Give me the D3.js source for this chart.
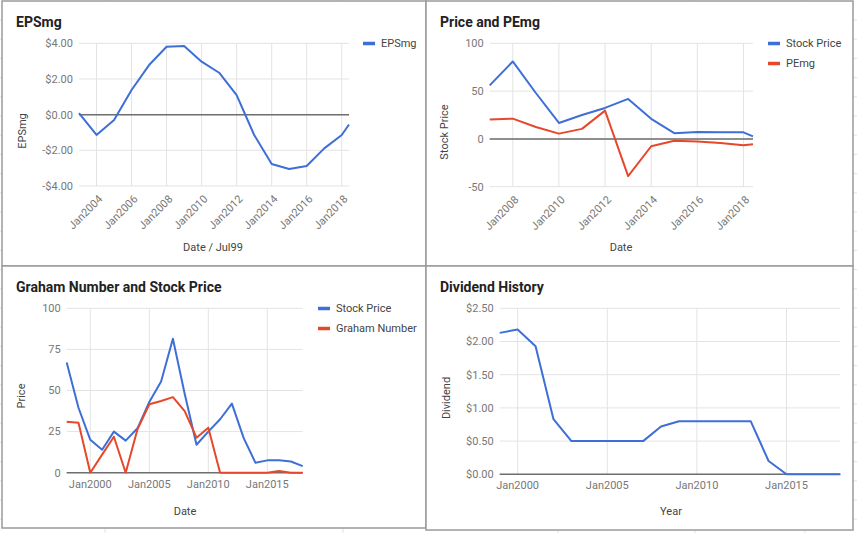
<!DOCTYPE html>
<html>
<head>
<meta charset="utf-8">
<title>Stock charts</title>
<script src="https://d3js.org/d3.v7.min.js"></script>
<style>
  body { margin:0; background:#fff; }
  text { font-family: Roboto, 'Open Sans', sans-serif; }
  .title { font-size:14px; font-weight:700; fill:#222; }
  .tick-label { font-size:11px; fill:#777; }
  .axis-title { font-size:11px; fill:#444; }
  .legend-text { font-size:11px; fill:#444; }
  .grid-line { stroke:#e3e3e3; stroke-width:1; }
  .zero-line { stroke:#6e6e6e; stroke-width:1.5; }
  .series { fill:none; stroke-width:2; stroke-linejoin:round; }
</style>
</head>
<body>
<script>
// ---- data ----
var epsDates = ["2003-01-01","2004-01-01","2005-01-01","2006-01-01","2007-01-01","2008-01-01","2009-01-01","2010-01-01","2011-01-01","2012-01-01","2013-01-01","2014-01-01","2015-01-01","2016-01-01","2017-01-01","2018-01-01","2018-06-01"];
var epsValues = [0.08,-1.14,-0.3,1.38,2.78,3.81,3.85,2.97,2.35,1.1,-1.14,-2.77,-3.05,-2.88,-1.89,-1.14,-0.55];
var epsTicks = [-4,-2,0,2,4];
var epsXTicks = ["2004-01-01","2006-01-01","2008-01-01","2010-01-01","2012-01-01","2014-01-01","2016-01-01","2018-01-01"];

var peDates = ["2007-01-01","2008-01-01","2009-01-01","2010-01-01","2011-01-01","2012-01-01","2013-01-01","2014-01-01","2015-01-01","2016-01-01","2017-01-01","2018-01-01","2018-06-01"];
var pePrice = [56,81,48,16.7,25,32.4,41.8,21,6,7.3,7,6.9,2.7];
var pePEmg = [20.2,21.2,12.5,5.5,10.5,29.6,-39,-7.7,-2,-2.8,-4.2,-6.7,-5.6];
var peTicks = [-50,0,50,100];
var peXTicks = ["2008-01-01","2010-01-01","2012-01-01","2014-01-01","2016-01-01","2018-01-01"];

var grahamYears = [1998,1999,2000,2001,2002,2003,2004,2005,2006,2007,2008,2009,2010,2011,2012,2013,2014,2015,2016,2017,2018];
var grahamPrice = [67,39.5,20,14,25,19.5,27,43,55.5,81.5,48,17,25,32.5,42,21,6,7.5,7.5,6.8,4];
var grahamNumber = [31,30.4,0,11,21.9,0,26.4,41.6,43.6,46,37.5,21.3,27.4,0,0,0,0,0,1,0,0];
var grahamTicks = [0,25,50,75,100];
var grahamXTicks = [2000,2005,2010,2015];

var divYears = [1999,2000,2001,2002,2003,2004,2005,2006,2007,2008,2009,2010,2011,2012,2013,2014,2015,2016,2017,2018];
var divValues = [2.13,2.18,1.93,0.83,0.5,0.5,0.5,0.5,0.5,0.72,0.8,0.8,0.8,0.8,0.8,0.2,0,0,0,0];
var divTicks = [0,0.5,1,1.5,2,2.5];
var divXTicks = [2000,2005,2010,2015];

var blue = "#3d6fd6", red = "#e5482b";

var W = 857, H = 533;
var svg = d3.select("body").append("svg").attr("width", W).attr("height", H);

// spreadsheet cells behind the charts
var bg = svg.append("g");
[105,343,558,695,805].forEach(function(x){
  bg.append("line").attr("x1",x).attr("x2",x).attr("y1",0).attr("y2",H).attr("stroke","#e2e2e2");
});
d3.range(20, H, 19.2).forEach(function(y){
  bg.append("line").attr("x1",0).attr("x2",W).attr("y1",y).attr("y2",y).attr("stroke","#e2e2e2");
});

var parse = d3.timeParse("%Y-%m-%d");
var fmtMonth = d3.timeFormat("%b%Y");
var yearDate = function(y){ return new Date(y,0,1); };

function panel(c) {
  var g = svg.append("g");
  g.append("rect").attr("x",c.box[0]).attr("y",c.box[1]).attr("width",c.box[2]).attr("height",c.box[3])
    .attr("fill","#fff").attr("stroke","#9a9a9a").attr("stroke-width",1.5);
  g.append("text").attr("class","title").attr("x",c.box[0]+14).attr("y",c.box[1]+26).text(c.title);

  var x = d3.scaleTime().domain(c.xDomain).range([c.plot.left, c.plot.right]);
  var y = d3.scaleLinear().domain(c.yDomain).range([c.plot.bottom, c.plot.top]);

  // grid
  g.append("g").selectAll("line").data(c.yTicks).enter().append("line")
    .attr("class","grid-line").attr("x1",c.plot.left).attr("x2",c.plot.right)
    .attr("y1",function(d){return y(d);}).attr("y2",function(d){return y(d);});
  g.append("g").selectAll("line").data(c.xTicks).enter().append("line")
    .attr("class","grid-line").attr("y1",c.plot.top).attr("y2",c.plot.bottom)
    .attr("x1",function(d){return x(d);}).attr("x2",function(d){return x(d);});

  // y labels
  g.append("g").selectAll("text").data(c.yTicks).enter().append("text")
    .attr("class","tick-label").attr("text-anchor","end")
    .attr("x",c.plot.left-6).attr("y",function(d){return y(d);}).attr("dy","0.35em")
    .text(c.yFormat);

  // x labels
  var xl = g.append("g").selectAll("text").data(c.xTicks).enter().append("text")
    .attr("class","tick-label").text(fmtMonth);
  if (c.rotate) {
    xl.attr("text-anchor","end").attr("dy","0.35em")
      .attr("transform",function(d){return "translate("+(x(d)+4)+","+(c.plot.bottom+11)+") rotate(-45)";});
  } else {
    xl.attr("text-anchor","middle").attr("x",function(d){return x(d);}).attr("y",c.plot.bottom+15);
  }

  // zero baseline
  g.append("line").attr("class","zero-line").attr("x1",c.plot.left).attr("x2",c.plot.right)
    .attr("y1",y(0)).attr("y2",y(0));

  // axis titles
  g.append("text").attr("class","axis-title").attr("text-anchor","middle")
    .attr("transform","translate("+c.yTitle[0]+","+c.yTitle[1]+") rotate(-90)").text(c.yTitleText);
  g.append("text").attr("class","axis-title").attr("text-anchor","middle")
    .attr("x",c.xTitle[0]).attr("y",c.xTitle[1]).text(c.xTitleText);

  // series
  var line = d3.line().x(function(d){return x(d[0]);}).y(function(d){return y(d[1]);});
  c.series.forEach(function(s){
    g.append("path").attr("class","series").attr("stroke",s.color)
      .attr("d", line(s.dates.map(function(d,i){return [d, s.values[i]];})));
  });

  // legend
  if (c.legend) {
    c.series.forEach(function(s,i){
      var ly = c.legend[1] + i*20;
      g.append("line").attr("x1",c.legend[0]).attr("x2",c.legend[0]+12).attr("y1",ly).attr("y2",ly)
        .attr("stroke",s.color).attr("stroke-width",3.5);
      g.append("text").attr("class","legend-text").attr("x",c.legend[0]+18).attr("y",ly).attr("dy","0.35em").text(s.name);
    });
  }
}

var dollar = function(d){ return (d<0?"-$":"$") + Math.abs(d).toFixed(2); };

panel({
  box:[2,1,424,265], title:"EPSmg",
  plot:{left:79,right:349,top:43.3,bottom:186},
  xDomain:[parse("2003-01-01"), parse("2018-06-01")], yDomain:[-4,4],
  yTicks:epsTicks, yFormat:dollar, xTicks:epsXTicks.map(parse), rotate:true,
  yTitle:[26,131], yTitleText:"EPSmg", xTitle:[213,251], xTitleText:"Date / Jul99",
  series:[{name:"EPSmg", color:blue, dates:epsDates.map(parse), values:epsValues}],
  legend:[363,43.5]
});

panel({
  box:[426,1,427,265], title:"Price and PEmg",
  plot:{left:489.7,right:753,top:43.3,bottom:186.7},
  xDomain:[parse("2007-01-01"), parse("2018-06-01")], yDomain:[-50,100],
  yTicks:peTicks, yFormat:function(d){return d;}, xTicks:peXTicks.map(parse), rotate:true,
  yTitle:[448,132], yTitleText:"Stock Price", xTitle:[621,251], xTitleText:"Date",
  series:[{name:"Stock Price", color:blue, dates:peDates.map(parse), values:pePrice},
          {name:"PEmg", color:red, dates:peDates.map(parse), values:pePEmg}],
  legend:[768,43.5]
});

panel({
  box:[2,266,424,262], title:"Graham Number and Stock Price",
  plot:{left:66.7,right:302.7,top:308.3,bottom:472.7},
  xDomain:[yearDate(1998), yearDate(2018)], yDomain:[0,100],
  yTicks:grahamTicks, yFormat:function(d){return d;}, xTicks:grahamXTicks.map(yearDate), rotate:false,
  yTitle:[25,396], yTitleText:"Price", xTitle:[185,515], xTitleText:"Date",
  series:[{name:"Stock Price", color:blue, dates:grahamYears.map(yearDate), values:grahamPrice},
          {name:"Graham Number", color:red, dates:grahamYears.map(yearDate), values:grahamNumber}],
  legend:[318,308.5]
});

panel({
  box:[426,266,427,264], title:"Dividend History",
  plot:{left:499.7,right:840.3,top:308.3,bottom:474.3},
  xDomain:[yearDate(1999), yearDate(2018)], yDomain:[0,2.5],
  yTicks:divTicks, yFormat:dollar, xTicks:divXTicks.map(yearDate), rotate:false,
  yTitle:[450,398], yTitleText:"Dividend", xTitle:[671,515], xTitleText:"Year",
  series:[{name:"Dividend", color:blue, dates:divYears.map(yearDate), values:divValues}],
  legend:null
});
</script>
</body>
</html>
